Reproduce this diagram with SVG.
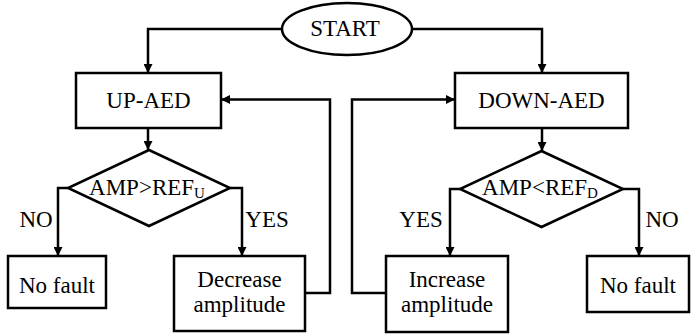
<svg xmlns="http://www.w3.org/2000/svg" width="691" height="335" viewBox="0 0 691 335">
<style>
.s{fill:#fff;stroke:#000;stroke-width:2.5}
.c{fill:none;stroke:#000;stroke-width:2.5;marker-end:url(#a)}
text{font-family:"Liberation Serif","Times New Roman",serif;font-size:23px;fill:#000;text-anchor:middle}
.sub{font-size:15px}
</style>
<defs>
<marker id="a" viewBox="0 0 10 10" refX="10" refY="5" markerWidth="3.6" markerHeight="3.6" orient="auto" markerUnits="strokeWidth">
<path d="M0,0 L10,5 L0,10 z" fill="#000"/>
</marker>
</defs>
<g id="connectors">
<path class="c" d="M282,29 H148 V73"/>
<path class="c" d="M412,29 H542 V73"/>
<path class="c" d="M148,128 V150"/>
<path class="c" d="M542,128 V151"/>
<path class="c" d="M68,188 H58 V256"/>
<path class="c" d="M230,188 H242 V256"/>
<path class="c" d="M460,189 H450 V256"/>
<path class="c" d="M623,189 H639 V256"/>
<path class="c" d="M305,293 H330 V99.5 H221"/>
<path class="c" d="M386,293 H352 V99.5 H455"/>
</g>
<g id="start">
<ellipse class="s" cx="347" cy="29" rx="65" ry="26"/>
<text x="345" y="36">START</text>
</g>
<g id="up-aed">
<rect class="s" x="76" y="73" width="145" height="55"/>
<text x="148.5" y="108">UP-AED</text>
</g>
<g id="down-aed">
<rect class="s" x="455" y="73" width="173" height="55"/>
<text x="541.5" y="108">DOWN-AED</text>
</g>
<g id="dec1">
<polygon class="s" points="149,150 230,188 149,226 68,188"/>
<text x="147" y="195">AMP&gt;REF<tspan class="sub" dy="3">U</tspan></text>
</g>
<g id="dec2">
<polygon class="s" points="541.5,151 623,189 541.5,227 460,189"/>
<text x="540" y="195">AMP&lt;REF<tspan class="sub" dy="3">D</tspan></text>
</g>
<g id="nofault1">
<rect class="s" x="8" y="256" width="98" height="52"/>
<text x="57" y="293">No fault</text>
</g>
<g id="decrease">
<rect class="s" x="174" y="256" width="131" height="75"/>
<text x="239.5" y="287">Decrease</text>
<text x="239.5" y="312">amplitude</text>
</g>
<g id="increase">
<rect class="s" x="386" y="256" width="122" height="76"/>
<text x="447" y="287">Increase</text>
<text x="447" y="312">amplitude</text>
</g>
<g id="nofault2">
<rect class="s" x="587" y="256" width="102" height="56"/>
<text x="638" y="293">No fault</text>
</g>
<g id="labels">
<text x="36" y="227">NO</text>
<text x="267" y="227">YES</text>
<text x="421" y="227">YES</text>
<text x="662" y="227">NO</text>
</g>
</svg>
